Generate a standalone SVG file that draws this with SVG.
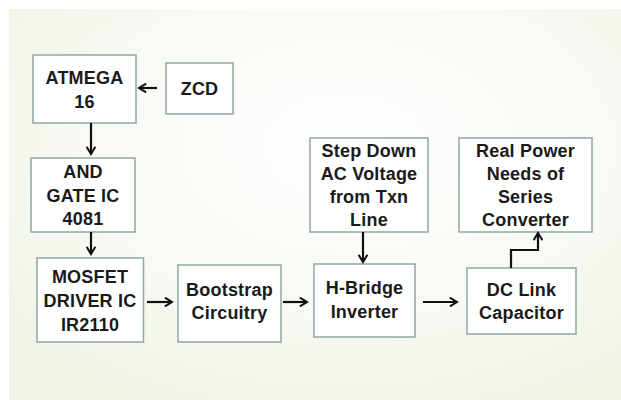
<svg xmlns="http://www.w3.org/2000/svg" width="621" height="400" viewBox="0 0 621 400">
<defs>
<radialGradient id="bg" cx="55%" cy="35%" r="75%">
<stop offset="0" stop-color="#ffffff"/>
<stop offset="0.6" stop-color="#f7f9f2"/>
<stop offset="1" stop-color="#eef3e5"/>
</radialGradient>
<marker id="ah" viewBox="0 0 10 10" refX="8.5" refY="5" markerWidth="5" markerHeight="5" orient="auto" markerUnits="strokeWidth">
<path d="M2,1 L8.5,5 L2,9" fill="none" stroke="#111" stroke-width="1.8"/>
</marker>
<style>
.box{fill:#ffffff;stroke:#8ea8a2;stroke-width:1.5}
.t{font-family:"Liberation Sans",Arial,sans-serif;font-weight:bold;font-size:18px;fill:#1a1a1a;text-anchor:middle;letter-spacing:0.2px}
.c{fill:none;stroke:#111;stroke-width:2.2;marker-end:url(#ah)}
</style>
</defs>
<rect x="0" y="0" width="621" height="400" fill="#ffffff"/>
<rect x="9" y="9" width="612" height="391" fill="url(#bg)"/>

<g id="atmega">
<rect class="box" x="33" y="55" width="103" height="68"/>
<text class="t" x="84.5" y="84">ATMEGA</text>
<text class="t" x="84.5" y="108">16</text>
</g>
<g id="zcd">
<rect class="box" x="166" y="63" width="67" height="51"/>
<text class="t" x="199.5" y="95">ZCD</text>
</g>
<g id="andgate">
<rect class="box" x="31" y="158" width="104" height="74"/>
<text class="t" x="83" y="178">AND</text>
<text class="t" x="83" y="202">GATE IC</text>
<text class="t" x="83" y="225">4081</text>
</g>
<g id="mosfet">
<rect class="box" x="37" y="258" width="106.5" height="84"/>
<text class="t" x="90" y="283">MOSFET</text>
<text class="t" x="90" y="307">DRIVER IC</text>
<text class="t" x="90" y="331">IR2110</text>
</g>
<g id="bootstrap">
<rect class="box" x="178" y="265" width="103" height="77"/>
<text class="t" x="229.5" y="296">Bootstrap</text>
<text class="t" x="229.5" y="319">Circuitry</text>
</g>
<g id="hbridge">
<rect class="box" x="314" y="264" width="101" height="73"/>
<text class="t" x="364.5" y="294">H-Bridge</text>
<text class="t" x="364.5" y="318">Inverter</text>
</g>
<g id="dclink">
<rect class="box" x="467" y="268" width="109" height="66"/>
<text class="t" x="521.5" y="296">DC Link</text>
<text class="t" x="521.5" y="319">Capacitor</text>
</g>
<g id="stepdown">
<rect class="box" x="310" y="138" width="118" height="94"/>
<text class="t" x="369" y="157">Step Down</text>
<text class="t" x="369" y="180">AC Voltage</text>
<text class="t" x="369" y="203">from Txn</text>
<text class="t" x="369" y="226">Line</text>
</g>
<g id="realpower">
<rect class="box" x="459" y="138" width="133" height="94"/>
<text class="t" x="525.5" y="157">Real Power</text>
<text class="t" x="525.5" y="180">Needs of</text>
<text class="t" x="525.5" y="203">Series</text>
<text class="t" x="525.5" y="226">Converter</text>
</g>

<g id="connectors">
<path class="c" d="M157,88 H139"/>
<path class="c" d="M91,123 V154"/>
<path class="c" d="M91,232 V254"/>
<path class="c" d="M147,302 H172"/>
<path class="c" d="M283,302 H307"/>
<path class="c" d="M363,232 V262"/>
<path class="c" d="M423,302 H457"/>
<path class="c" d="M511,268 V250 H538 V233"/>
</g>
</svg>
